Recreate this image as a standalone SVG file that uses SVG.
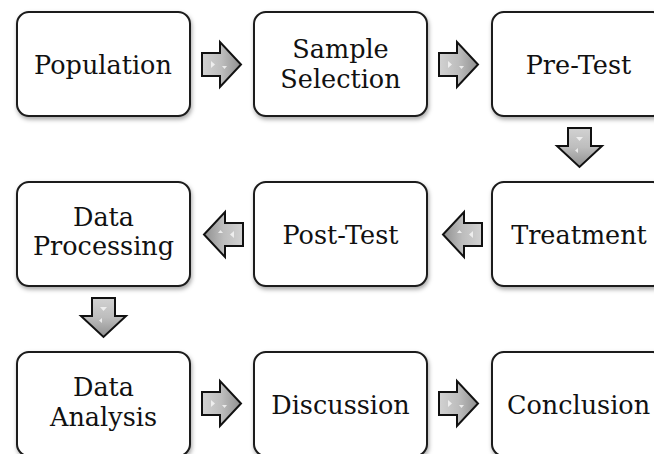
<svg xmlns="http://www.w3.org/2000/svg" xmlns:xlink="http://www.w3.org/1999/xlink" width="654" height="454" viewBox="0 0 654 454">
<style>
.box{fill:#fff;stroke:#1a1a1a;stroke-width:2;filter:url(#sh)}
.lbl{font-family:"DejaVu Serif","Liberation Serif",serif;font-size:25.5px;fill:#111;text-anchor:middle}
.arr{fill:url(#ag);stroke:#111;stroke-width:2;stroke-linejoin:miter}
.hl{fill:#f4f4f4;opacity:0.85}
</style>
<defs>
<filter id="sh" x="-10%" y="-10%" width="125%" height="130%">
<feDropShadow dx="1" dy="2.5" stdDeviation="2" flood-color="#000" flood-opacity="0.35"/>
</filter>
<linearGradient id="ag" x1="0" y1="0" x2="1" y2="0">
<stop offset="0" stop-color="#d2d2d2"/>
<stop offset="0.5" stop-color="#bdbdbd"/>
<stop offset="1" stop-color="#8f8f8f"/>
</linearGradient>
<g id="arrow">
<path class="arr" d="M0,11 H18 V0 L39,22.5 L18,45 V34 H0 Z"/>
<path class="hl" d="M9,19 L13,22.5 L9,26 Z"/>
<path class="hl" d="M20,24 L25,24 L22.5,27 Z"/>
</g>
</defs>

<g id="connectors">
<use xlink:href="#arrow" transform="translate(202,42)"/>
<use xlink:href="#arrow" transform="translate(439,42)"/>
<use xlink:href="#arrow" transform="translate(602,128) rotate(90)"/>
<use xlink:href="#arrow" transform="translate(482,257) rotate(180)"/>
<use xlink:href="#arrow" transform="translate(243,257) rotate(180)"/>
<use xlink:href="#arrow" transform="translate(126,298) rotate(90)"/>
<use xlink:href="#arrow" transform="translate(202,381)"/>
<use xlink:href="#arrow" transform="translate(439,381)"/>
</g>

<g id="population">
<rect class="box" x="17" y="12" width="173" height="104" rx="12"/>
<text class="lbl" x="103" y="74">Population</text>
</g>
<g id="sample-selection">
<rect class="box" x="254" y="12" width="173" height="104" rx="12"/>
<text class="lbl" x="340.5" y="58">Sample</text>
<text class="lbl" x="340.5" y="88">Selection</text>
</g>
<g id="pre-test">
<rect class="box" x="492" y="12" width="173" height="104" rx="12"/>
<text class="lbl" x="578.5" y="74">Pre-Test</text>
</g>
<g id="treatment">
<rect class="box" x="492" y="182" width="173" height="104" rx="12"/>
<text class="lbl" x="579" y="244">Treatment</text>
</g>
<g id="post-test">
<rect class="box" x="254" y="182" width="173" height="104" rx="12"/>
<text class="lbl" x="340.5" y="244">Post-Test</text>
</g>
<g id="data-processing">
<rect class="box" x="17" y="182" width="173" height="104" rx="12"/>
<text class="lbl" x="103.5" y="226">Data</text>
<text class="lbl" x="103.5" y="255">Processing</text>
</g>
<g id="data-analysis">
<rect class="box" x="17" y="352" width="173" height="104" rx="12"/>
<text class="lbl" x="103.5" y="396">Data</text>
<text class="lbl" x="103.5" y="426">Analysis</text>
</g>
<g id="discussion">
<rect class="box" x="254" y="352" width="173" height="104" rx="12"/>
<text class="lbl" x="340.5" y="414">Discussion</text>
</g>
<g id="conclusion">
<rect class="box" x="492" y="352" width="173" height="104" rx="12"/>
<text class="lbl" x="578.5" y="414">Conclusion</text>
</g>
</svg>
